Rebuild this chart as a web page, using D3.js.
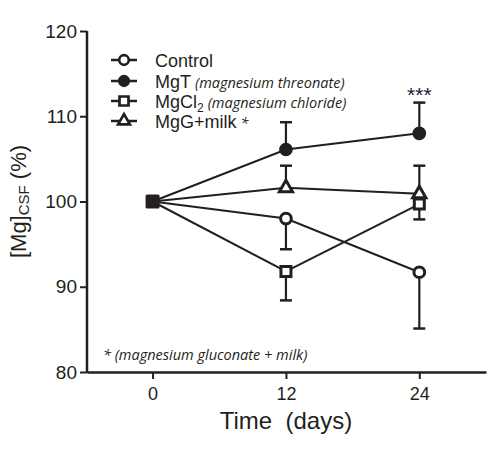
<!DOCTYPE html>
<meta charset="utf-8">
<head>
  <script src="https://d3js.org/d3.v7.min.js"></script>
  <style>
    body { margin: 0; background: #fff; }
    svg { display: block; font-family: "Liberation Sans", Arial, sans-serif; }
    .note { font-family: "Open Sans", sans-serif; font-style: italic; }
  </style>
</head>
<body>
<div id="my_dataviz"></div>
<script>

// data
var days = [0, 12, 24];
var seriesNames = ["Control", "MgT", "MgG", "MgCl2"];
var controlMean = [100, 98.0, 91.7];
var controlErr  = [0, -3.6, -6.6];
var mgtMean     = [100, 106.1, 108.0];
var mgtErr      = [0, 3.2, 3.6];
var mggMean     = [100, 101.6, 100.9];
var mggErr      = [0, 2.6, 3.3];
var mgclMean    = [100, 91.8, 99.7];
var mgclErr     = [0, -3.4, -1.8];
var yTicks = [80, 90, 100, 110, 120];
var xTicks = [0, 12, 24];

var ink = "#231f20";

var series = [
  {name: "Control", mean: controlMean, err: controlErr, shape: "circle", fill: "#fff"},
  {name: "MgT", mean: mgtMean, err: mgtErr, shape: "circle", fill: ink},
  {name: "MgG", mean: mggMean, err: mggErr, shape: "triangle", fill: "#fff"},
  {name: "MgCl2", mean: mgclMean, err: mgclErr, shape: "square", fill: "#fff"}
];

var W = 490, H = 452;
var margin = {top: 31, right: 4, bottom: 80, left: 87};

var svg = d3.select("#my_dataviz")
  .append("svg")
    .attr("width", W)
    .attr("height", H);

var x = d3.scaleLinear().domain([-5.9, 30]).range([margin.left, W - margin.right]);
var y = d3.scaleLinear().domain([80, 120]).range([H - margin.bottom, margin.top]);

// axes
var yAxis = svg.append("g")
  .attr("transform", "translate(" + margin.left + ",0)")
  .call(d3.axisLeft(y).tickValues(yTicks).tickSize(7).tickPadding(3).tickSizeOuter(0));
yAxis.select(".domain").attr("stroke", ink).attr("stroke-width", 2.5)
  .attr("d", "M0," + (y(80) + 1) + "V" + y(120));
yAxis.selectAll(".tick line").attr("stroke", ink).attr("stroke-width", 2);
yAxis.selectAll(".tick text").attr("font-size", 19).attr("fill", ink)
  .attr("font-family", "Liberation Sans, Arial, sans-serif");

var xAxis = svg.append("g")
  .attr("transform", "translate(0," + y(80) + ")")
  .call(d3.axisBottom(x).tickValues(xTicks).tickSize(7).tickPadding(8).tickSizeOuter(0));
xAxis.select(".domain").attr("stroke", ink).attr("stroke-width", 2.5);
xAxis.selectAll(".tick line").attr("stroke", ink).attr("stroke-width", 2);
xAxis.selectAll(".tick text").attr("font-size", 18).attr("fill", ink)
  .attr("font-family", "Liberation Sans, Arial, sans-serif");

// axis titles
svg.append("text")
  .attr("x", x(12))
  .attr("y", 429)
  .attr("text-anchor", "middle")
  .attr("font-size", 24)
  .attr("fill", ink)
  .attr("xml:space", "preserve")
  .text("Time  (days)");

var yl = svg.append("text")
  .attr("transform", "translate(26," + y(100) + ") rotate(-90)")
  .attr("text-anchor", "middle")
  .attr("font-size", 22)
  .attr("fill", ink);
yl.append("tspan").text("[Mg]");
yl.append("tspan").attr("font-size", 15).attr("dy", 3).text("CSF");
yl.append("tspan").attr("dy", -3).text(" (%)");

// lines
var line = d3.line()
  .x(function(d, i) { return x(days[i]); })
  .y(function(d) { return y(d); });

svg.selectAll(".series-line")
  .data(series)
  .enter()
  .append("path")
    .attr("d", function(s) { return line(s.mean); })
    .attr("fill", "none")
    .attr("stroke", ink)
    .attr("stroke-width", 2);

// error bars (one-sided)
var bars = [];
series.forEach(function(s) {
  s.mean.forEach(function(m, i) {
    if (s.err[i] !== 0) bars.push({day: days[i], from: m, to: m + s.err[i]});
  });
});
var eb = svg.selectAll(".err").data(bars).enter().append("g");
eb.append("line")
  .attr("x1", function(d) { return x(d.day); })
  .attr("x2", function(d) { return x(d.day); })
  .attr("y1", function(d) { return y(d.from); })
  .attr("y2", function(d) { return y(d.to); })
  .attr("stroke", ink).attr("stroke-width", 2.2);
eb.append("line")
  .attr("x1", function(d) { return x(d.day) - 6; })
  .attr("x2", function(d) { return x(d.day) + 6; })
  .attr("y1", function(d) { return y(d.to); })
  .attr("y2", function(d) { return y(d.to); })
  .attr("stroke", ink).attr("stroke-width", 2.5);

// markers
var symbolType = {circle: d3.symbolCircle, square: d3.symbolSquare, triangle: d3.symbolTriangle};
var symbolSize = {circle: 90, square: 100, triangle: 75};

function drawMarker(g, shape, fill) {
  g.append("path")
    .attr("d", d3.symbol().type(symbolType[shape]).size(symbolSize[shape])())
    .attr("fill", fill)
    .attr("stroke", ink)
    .attr("stroke-width", 3);
}

series.forEach(function(s) {
  s.mean.forEach(function(m, i) {
    if (days[i] === 0) return;
    var g = svg.append("g").attr("transform", "translate(" + x(days[i]) + "," + y(m) + ")");
    drawMarker(g, s.shape, s.fill);
  });
});

// shared baseline point at day 0
svg.append("rect")
  .attr("x", x(0) - 7).attr("y", y(100) - 7)
  .attr("width", 14).attr("height", 14)
  .attr("rx", 1.5)
  .attr("fill", ink);

// significance
svg.append("text")
  .attr("x", x(24))
  .attr("y", 102)
  .attr("text-anchor", "middle")
  .attr("font-size", 21)
  .attr("fill", "#1d1d3a")
  .text("***");

// legend
var legend = [
  {label: "Control", shape: "circle", fill: "#fff", sub: null, note: null},
  {label: "MgT", shape: "circle", fill: ink, sub: null, note: "(magnesium threonate)"},
  {label: "MgCl", shape: "square", fill: "#fff", sub: "2", note: "(magnesium chloride)"},
  {label: "MgG+milk", shape: "triangle", fill: "#fff", sub: null, note: "*"}
];
var legendY = [60, 81, 101, 121];

legend.forEach(function(d, i) {
  var g = svg.append("g").attr("transform", "translate(124," + legendY[i] + ")");
  g.append("line").attr("x1", -13).attr("x2", 13).attr("stroke", ink).attr("stroke-width", 2.5);
  var mg = g.append("g").attr("transform", "scale(0.9)");
  drawMarker(mg, d.shape, d.fill);
  var t = g.append("text")
    .attr("x", 31).attr("y", 6.5)
    .attr("font-size", 18).attr("fill", ink);
  t.append("tspan").text(d.label);
  if (d.sub) t.append("tspan").attr("font-size", 12).attr("dy", 4).text(d.sub);
  if (d.note) {
    t.append("tspan").attr("class", "note").attr("font-size", 14.5)
      .attr("dx", 4).attr("dy", d.sub ? -4 : 0).text(d.note);
  }
});

// footnote
svg.append("text")
  .attr("class", "note")
  .attr("x", 103)
  .attr("y", 360)
  .attr("font-size", 14.5)
  .attr("fill", ink)
  .text("* (magnesium gluconate + milk)");

</script>
</body>
